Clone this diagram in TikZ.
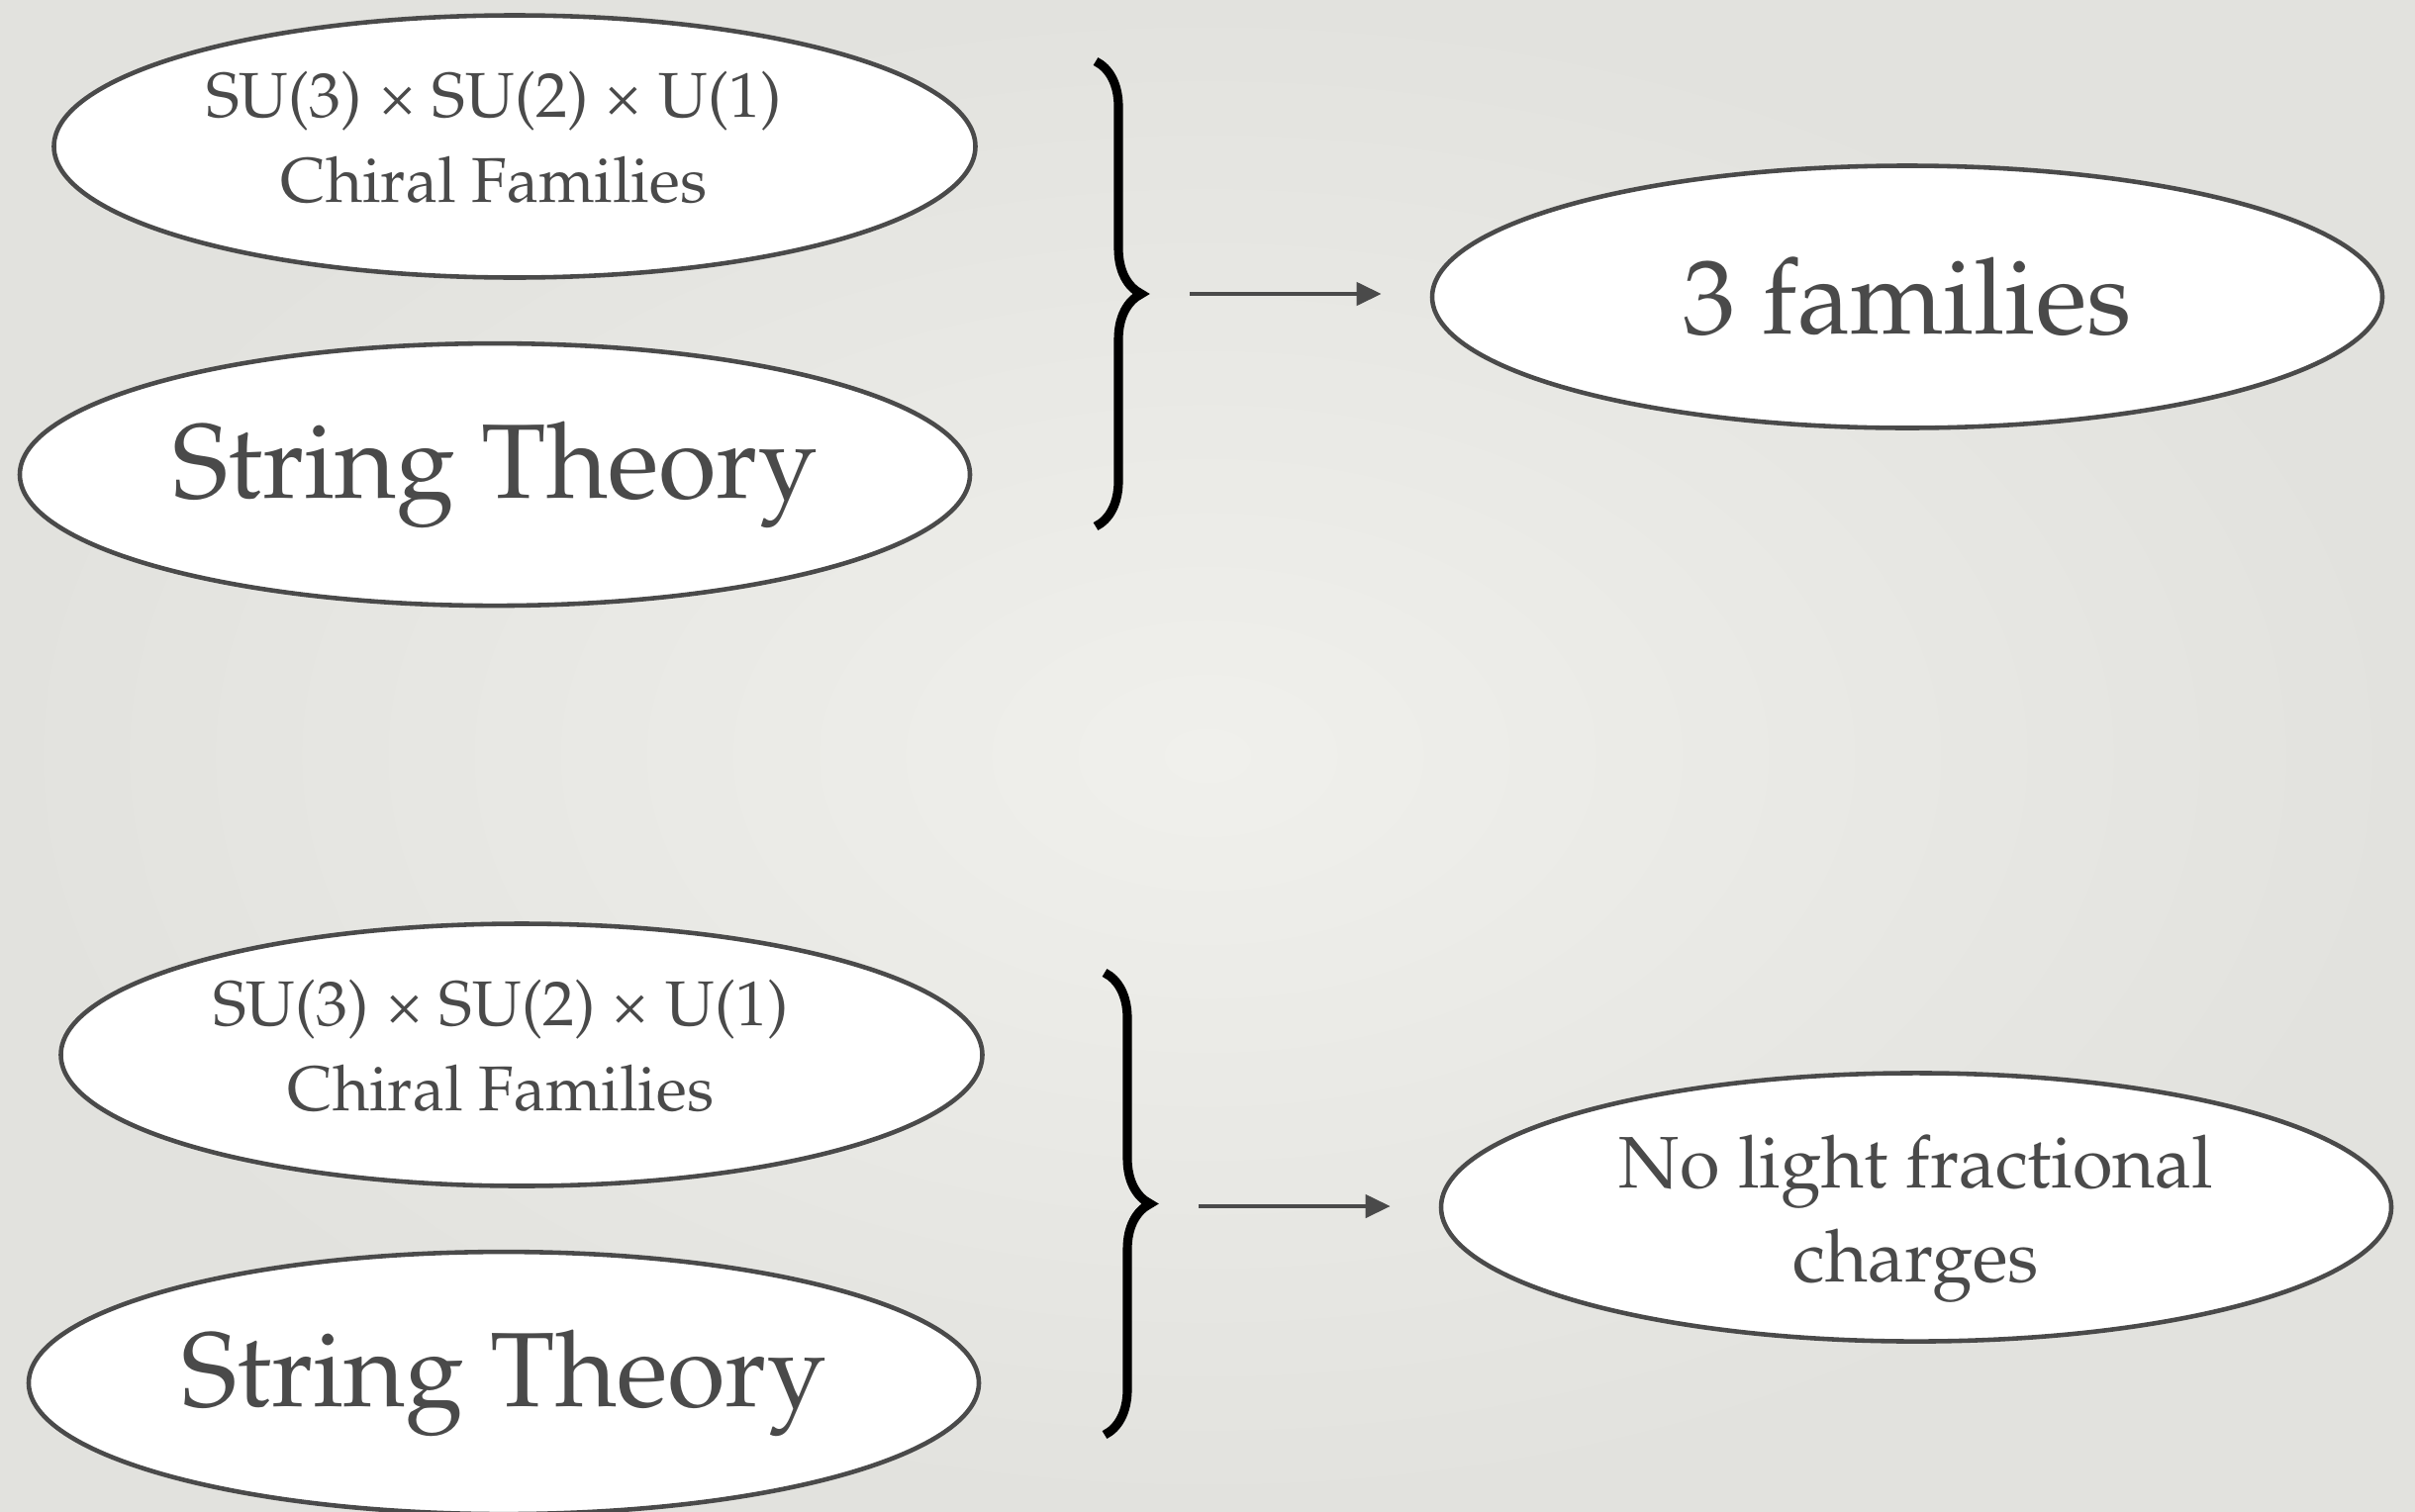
\documentclass[tikz,border=0pt]{standalone}
\usepackage[T1]{fontenc}
\usepackage{mathpazo}
\usetikzlibrary{shapes.geometric,positioning,calc,decorations.pathreplacing,arrows.meta}
\definecolor{slidemid}{HTML}{F0F0EC}
\definecolor{slideedge}{HTML}{E2E2DE}
\definecolor{inkgray}{HTML}{4A4A4A}
% pushes a centred line 0.21cm to the left
\newcommand{\leftnudge}{\hspace*{0.42cm}}

\begin{document}
\begin{tikzpicture}[
    every node/.style={text=inkgray},
    bubble/.style={ellipse, draw=inkgray, line width=1.3pt, fill=white, inner sep=0pt,
                   minimum width=9.6cm, minimum height=2.65cm, align=center},
    arrow/.style={-{Triangle[length=0.25cm, width=0.23cm]}, line width=1.2pt, inkgray},
    curly/.style={decorate, decoration={brace, amplitude=0.46cm}, line width=2.6pt, black},
    small/.style={font=\fontsize{18.2}{24.5}\selectfont},
    mid/.style={font=\fontsize{21}{27}\selectfont},
    big/.style={font=\fontsize{30.4}{36}\selectfont},
]
% slide background
\shade[inner color=slidemid, outer color=slideedge] (0,0) rectangle (24.4,-15.27);
\useasboundingbox (0,0) rectangle (24.4,-15.27);

% upper group
\node[bubble, small, minimum width=9.31cm] (gauge1) at (5.20,-1.48)
    {SU(3) \texttimes{} SU(2) \texttimes{} U(1)\leftnudge\\Chiral Families\leftnudge\rule[-0.2cm]{0pt}{0.2cm}};
\node[bubble, big, below=0.62cm of gauge1, xshift=-0.2cm] (string1) {String Theory};
\node[bubble, big] (result1) at (19.27,-3.00) {3 families};
\coordinate (top1) at (11.07,-0.62);
\coordinate (bot1) at (11.07,-5.32);
\coordinate (tip1) at (11.53,-2.97);
\draw[curly] (top1) -- (bot1);
\draw[arrow, shorten <=0.49cm, shorten >=0.49cm] (tip1) -- (tip1 -| result1.west);

% lower group
\node[bubble, small, minimum width=9.31cm] (gauge2) at (5.27,-10.66)
    {SU(3) \texttimes{} SU(2) \texttimes{} U(1)\leftnudge\\Chiral Families\leftnudge\rule[-0.2cm]{0pt}{0.2cm}};
\node[bubble, big, below=0.62cm of gauge2, xshift=-0.18cm] (string2) {String Theory};
\node[bubble, mid, minimum height=2.68cm] (result2) at (19.36,-12.20)
    {\rule{0pt}{0.76cm}No light fractional\\charges};
\coordinate (top2) at (11.16,-9.83);
\coordinate (bot2) at (11.16,-14.50);
\coordinate (tip2) at (11.62,-12.19);
\draw[curly] (top2) -- (bot2);
\draw[arrow, shorten <=0.49cm, shorten >=0.49cm] (tip2) -- (tip2 -| result2.west);
\end{tikzpicture}
\end{document}
